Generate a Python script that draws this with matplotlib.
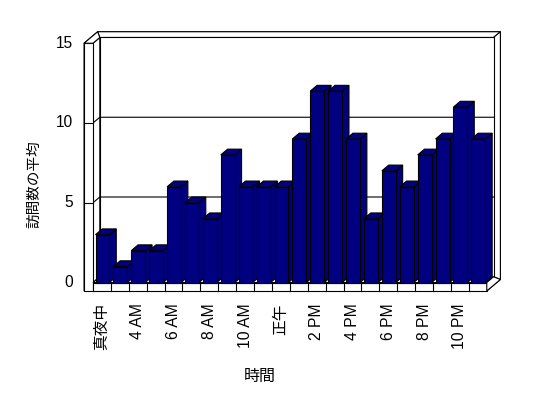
import matplotlib.pyplot as plt
from matplotlib.patches import Polygon
import numpy as np

NAVY = '#000080'; DARK = '#000000'
LAT = ['Liberation Sans', 'Noto Sans CJK JP']
JP = ['Noto Sans CJK JP']

hours = ['真夜中', '2 AM', '4 AM', '5 AM', '6 AM', '7 AM', '8 AM', '9 AM',
         '10 AM', '11 AM', '正午', '1 PM', '2 PM', '3 PM', '4 PM', '5 PM',
         '6 PM', '7 PM', '8 PM', '9 PM', '10 PM', '11 PM']
visits = [3, 1, 2, 2, 6, 5, 4, 8, 6, 6, 6, 9, 12, 12, 9, 4, 7, 6, 8, 9, 11, 9]
yticks = [0, 5, 10, 15]
ymax = 15

# oblique depth offset (data units) and wall thickness
dx, dy = 0.38, 0.36
wall_x, wall_y = 0.5, 0.53
bar_off, bar_w = 0.14, 0.78


def poly(ax, pts, fc='white', lw=0.8, z=1):
    ax.add_patch(Polygon(pts, closed=True, facecolor=fc, edgecolor=DARK,
                         lw=lw, zorder=z, joinstyle='miter'))


def main():
    n = len(visits)
    fig = plt.figure(figsize=(5.48, 3.98), dpi=100, facecolor='white')
    ax = fig.add_axes([0, 0, 1, 1])
    ax.set_xlim(-5.196, 25.42)
    ax.set_ylim(-7.24, 17.71)
    ax.axis('off')

    # outer slab silhouette
    poly(ax, [(-wall_x, -wall_y), (-wall_x, ymax),
              (-wall_x + 2 * dx, ymax + 2 * dy), (n + 2 * dx, ymax + 2 * dy),
              (n + 2 * dx, -wall_y + 2 * dy), (n, -wall_y)])
    # back wall top and right thickness
    poly(ax, [(dx, ymax + dy), (n + dx, ymax + dy),
              (n + 2 * dx, ymax + 2 * dy), (-wall_x + 2 * dx, ymax + 2 * dy)])
    poly(ax, [(n + dx, dy), (n + dx, ymax + dy),
              (n + 2 * dx, ymax + 2 * dy), (n + 2 * dx, -wall_y + 2 * dy)])
    # back wall inner face + gridlines
    poly(ax, [(dx, dy), (n + dx, dy), (n + dx, ymax + dy), (dx, ymax + dy)])
    # left wall inner face + gridlines
    poly(ax, [(0, 0), (0, ymax), (dx, ymax + dy), (dx, dy)])
    for v in yticks[1:-1]:
        ax.plot([0, dx, n + dx], [v, v + dy, v + dy], color=DARK, lw=0.8, zorder=2)
    # left wall front face with ticks
    poly(ax, [(-wall_x, -wall_y), (0, -wall_y), (0, ymax), (-wall_x, ymax)], z=3)
    poly(ax, [(-wall_x, ymax), (0, ymax), (dx, ymax + dy),
              (-wall_x + 2 * dx, ymax + 2 * dy)], z=3)
    for v in yticks[1:-1]:
        ax.plot([-wall_x, 0], [v, v], color=DARK, lw=0.8, zorder=4)
    # floor top, front face, right side
    poly(ax, [(0, 0), (n, 0), (n + dx, dy), (dx, dy)], z=3)
    poly(ax, [(0, -wall_y), (n, -wall_y), (n, 0), (0, 0)], z=3)
    for i in range(1, n):
        ax.plot([i, i], [-wall_y, 0], color=DARK, lw=0.8, zorder=4)
    poly(ax, [(n, -wall_y), (n, 0), (n + dx, dy),
              (n + 2 * dx, -wall_y + 2 * dy)], z=3)

    # bars, left to right so each front covers the previous side
    for i, v in enumerate(visits):
        x0 = i + bar_off; x1 = x0 + bar_w
        z = 5 + i
        poly(ax, [(x1, 0), (x1 + dx, dy), (x1 + dx, v + dy), (x1, v)], fc=NAVY, z=z)
        poly(ax, [(x0, v), (x1, v), (x1 + dx, v + dy), (x0 + dx, v + dy)], fc=NAVY, z=z)
        poly(ax, [(x0, 0), (x1, 0), (x1, v), (x0, v)], fc=NAVY, z=z)

    # labels
    for v in yticks:
        ax.text(-1.12, v, str(v), ha='right', va='center', fontsize=11.2,
                family=LAT, color=DARK)
    for i in range(0, n, 2):
        ax.text(i + 0.5, -1.29, hours[i], rotation=90, ha='center', va='top',
                fontsize=11.3, family=LAT, color=DARK)
    ax.text(-3.3, 6.18, '訪問数の平均', rotation=90, ha='center', va='center',
            fontsize=10.5, family=JP, color=DARK)
    ax.text(9.33, -5.92, '時間', ha='center', va='center', fontsize=11.5,
            family=JP, color=DARK)

    plt.savefig('out.png', dpi=100, facecolor='white')
    plt.close()


if __name__ == '__main__':
    main()
